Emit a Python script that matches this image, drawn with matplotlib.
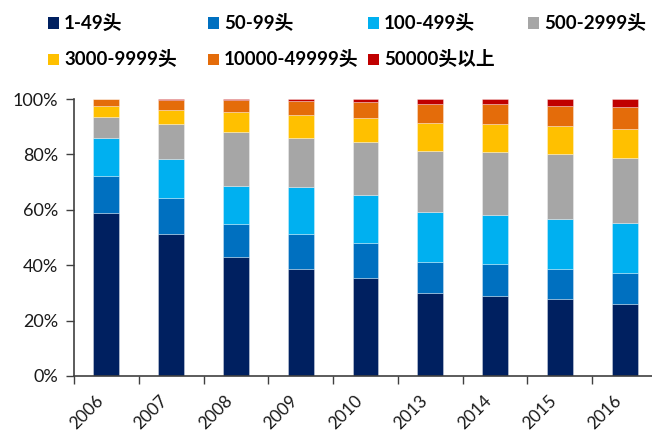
import matplotlib
matplotlib.use("Agg")
import matplotlib.pyplot as plt
from matplotlib.patches import Rectangle
import numpy as np

plt.rcParams['font.family'] = ['Lato', 'Noto Sans CJK SC', 'DejaVu Sans']

years = ['2006', '2007', '2008', '2009', '2010', '2013', '2014', '2015', '2016']
groups = ['1-49头', '50-99头', '100-499头', '500-2999头',
          '3000-9999头', '10000-49999头', '50000头以上']
colors = ['#002060', '#0070C0', '#00B0F0', '#A6A6A6',
          '#FFC000', '#E46C0A', '#C00000']

# share of farms by herd size (%)
s_1_49 = [59.0, 51.4, 43.1, 38.5, 35.5, 30.1, 29.0, 27.9, 26.1]
s_50_99 = [13.3, 13.0, 11.9, 12.9, 12.6, 11.2, 11.3, 10.8, 11.0]
s_100_499 = [13.5, 13.8, 13.6, 17.0, 17.2, 17.8, 17.8, 17.9, 18.0]
s_500_2999 = [7.8, 12.7, 19.6, 17.6, 19.3, 22.2, 22.9, 23.4, 23.7]
s_3000_9999 = [3.8, 5.2, 7.1, 8.1, 8.7, 9.9, 9.9, 10.3, 10.5]
s_10000_49999 = [2.5, 3.4, 4.5, 5.2, 5.7, 7.0, 7.2, 7.3, 7.8]
s_50000 = [0.1, 0.5, 0.2, 0.7, 1.0, 1.8, 1.9, 2.4, 2.9]
series = [s_1_49, s_50_99, s_100_499, s_500_2999,
          s_3000_9999, s_10000_49999, s_50000]

W, H = 652, 434
fig = plt.figure(figsize=(W / 100, H / 100), dpi=100)
ax = fig.add_axes([74 / W, (H - 376) / H, 583 / W, 277 / H])

x = np.arange(len(years))
bottom = np.zeros(len(years))
for vals, c in zip(series, colors):
    ax.bar(x, vals, 0.4, bottom=bottom, color=c,
           edgecolor=(1, 1, 1, 0.45), linewidth=0.5)
    bottom += np.array(vals)

ax.set_xlim(-0.5, len(years) - 0.5)
ax.set_ylim(0, 100)
ax.set_yticks(range(0, 101, 20))
ax.set_yticklabels([f'{v}%' for v in range(0, 101, 20)])

# labels at bar centres, tick marks between categories
ax.set_xticks(x)
ax.set_xticklabels(years, rotation=45, ha='right', va='top')
ax.set_xticks(np.arange(len(years)) - 0.5, minor=True)
ax.tick_params(axis='x', which='major', length=0, pad=12, labelsize=12.5, colors='#1a1a1a')
ax.tick_params(axis='x', which='minor', length=6, width=1.0, direction='out', color='#404040')
ax.tick_params(axis='y', length=5.5, width=1.0, direction='out', pad=6,
               labelsize=13, color='#404040', labelcolor='#1a1a1a')

for s in ['top', 'right']:
    ax.spines[s].set_visible(False)
for s in ['left', 'bottom']:
    ax.spines[s].set_color('#404040')
    ax.spines[s].set_linewidth(1.2)

# legend laid out on a fixed grid: 4 columns, 2 rows
for i, (name, c) in enumerate(zip(groups, colors)):
    col, row = i % 4, i // 4
    x0 = 48 + 160 * col
    yc = 23 + 36 * row
    fig.add_artist(Rectangle((x0 / W, (H - yc - 5.5) / H), 11 / W, 11 / H,
                             transform=fig.transFigure, facecolor=c, edgecolor='none'))
    fig.text((x0 + 16) / W, (H - yc) / H, name, fontsize=13.5, fontweight='bold',
             va='center', ha='left', color='#000000')

fig.savefig('out.png', dpi=100)
